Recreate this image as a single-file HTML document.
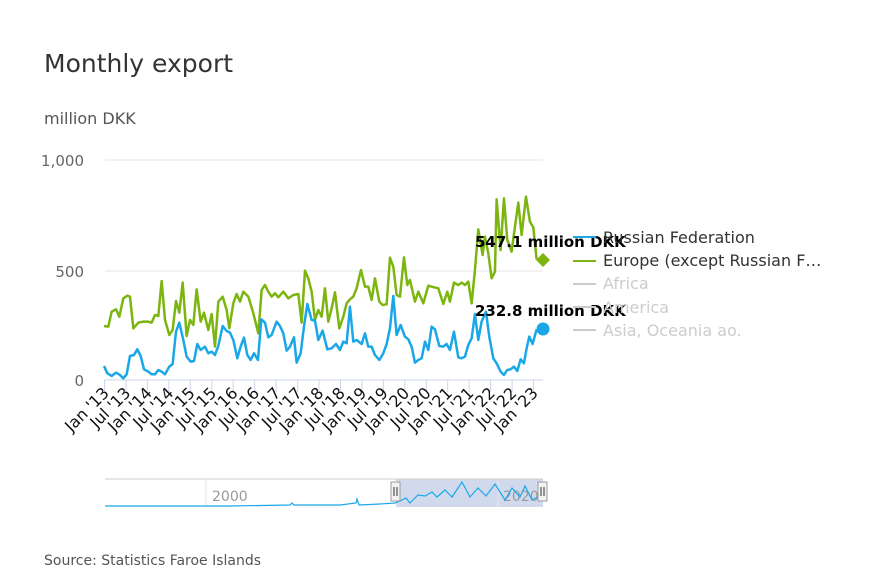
<!DOCTYPE html>
<html><head><style>
body{margin:0;background:#fff;font-family:"DejaVu Sans","Liberation Sans",sans-serif;}
</style></head><body>
<svg width="870" height="580" xmlns="http://www.w3.org/2000/svg" font-family="DejaVu Sans, Liberation Sans, sans-serif">
<rect width="870" height="580" fill="#fff"/>
<text x="44" y="72" font-size="25" fill="#333">Monthly export</text>
<text x="44" y="124" font-size="16" fill="#555">million DKK</text>
<line x1="105" y1="160" x2="543" y2="160" stroke="#e6e6e6"/>
<line x1="105" y1="271" x2="543" y2="271" stroke="#e6e6e6"/>
<line x1="104" y1="380" x2="543" y2="380" stroke="#ccd6eb"/>
<text x="84" y="166" font-size="15" fill="#666" text-anchor="end">1,000</text>
<text x="84" y="277" font-size="15" fill="#666" text-anchor="end">500</text>
<text x="84" y="386" font-size="15" fill="#666" text-anchor="end">0</text>
<g stroke="#ccd6eb">
<line x1="104.5" x2="104.5" y1="380" y2="392"/><line x1="126" x2="126" y1="380" y2="392"/><line x1="147.4" x2="147.4" y1="380" y2="392"/><line x1="168.9" x2="168.9" y1="380" y2="392"/><line x1="190.3" x2="190.3" y1="380" y2="392"/><line x1="211.8" x2="211.8" y1="380" y2="392"/><line x1="233.2" x2="233.2" y1="380" y2="392"/><line x1="254.7" x2="254.7" y1="380" y2="392"/><line x1="276.1" x2="276.1" y1="380" y2="392"/><line x1="297.6" x2="297.6" y1="380" y2="392"/><line x1="319" x2="319" y1="380" y2="392"/><line x1="340.5" x2="340.5" y1="380" y2="392"/><line x1="361.9" x2="361.9" y1="380" y2="392"/><line x1="383.4" x2="383.4" y1="380" y2="392"/><line x1="404.8" x2="404.8" y1="380" y2="392"/><line x1="426.3" x2="426.3" y1="380" y2="392"/><line x1="447.7" x2="447.7" y1="380" y2="392"/><line x1="469.2" x2="469.2" y1="380" y2="392"/><line x1="490.6" x2="490.6" y1="380" y2="392"/><line x1="512.1" x2="512.1" y1="380" y2="392"/><line x1="533.5" x2="533.5" y1="380" y2="392"/>
</g>
<g font-size="16" fill="#111" text-anchor="end">
<text transform="translate(110,394) rotate(-45)">Jan '13</text>
<text transform="translate(131.5,394) rotate(-45)">Jul '13</text>
<text transform="translate(152.9,394) rotate(-45)">Jan '14</text>
<text transform="translate(174.4,394) rotate(-45)">Jul '14</text>
<text transform="translate(195.8,394) rotate(-45)">Jan '15</text>
<text transform="translate(217.3,394) rotate(-45)">Jul '15</text>
<text transform="translate(238.7,394) rotate(-45)">Jan '16</text>
<text transform="translate(260.2,394) rotate(-45)">Jul '16</text>
<text transform="translate(281.6,394) rotate(-45)">Jan '17</text>
<text transform="translate(303.1,394) rotate(-45)">Jul '17</text>
<text transform="translate(324.5,394) rotate(-45)">Jan '18</text>
<text transform="translate(346,394) rotate(-45)">Jul '18</text>
<text transform="translate(367.4,394) rotate(-45)">Jan '19</text>
<text transform="translate(388.9,394) rotate(-45)">Jul '19</text>
<text transform="translate(410.3,394) rotate(-45)">Jan '20</text>
<text transform="translate(431.8,394) rotate(-45)">Jul '20</text>
<text transform="translate(453.2,394) rotate(-45)">Jan '21</text>
<text transform="translate(474.7,394) rotate(-45)">Jul '21</text>
<text transform="translate(496.1,394) rotate(-45)">Jan '22</text>
<text transform="translate(517.6,394) rotate(-45)">Jul '22</text>
<text transform="translate(539,394) rotate(-45)">Jan '23</text>
</g>
<g transform="translate(30,140) scale(0.3333)" fill="none" stroke-width="7.5" stroke-linejoin="round">
<polyline stroke="#7cb50f" points="222,558 235,560 245,515 258,508 268,530 280,475 292,467 300,470 310,565 325,548 340,545 355,545 365,548 375,525 385,528 395,423 405,540 418,585 428,570 438,483 448,518 458,428 470,588 480,540 490,555 500,448 512,545 522,518 535,570 545,522 555,620 565,485 578,470 590,510 598,565 610,490 620,462 630,485 640,455 655,470 670,520 685,580 695,450 705,435 715,455 725,470 735,460 745,472 760,455 775,475 790,465 805,462 815,548 825,392 835,415 845,455 855,540 865,510 875,530 885,445 895,545 905,505 915,457 928,565 940,530 950,490 960,478 970,470 980,445 993,390 1005,440 1015,440 1025,480 1035,415 1048,485 1058,495 1070,493 1080,353 1090,380 1100,465 1110,470 1122,352 1132,435 1140,420 1155,485 1165,455 1180,490 1195,437 1205,440 1225,445 1240,492 1252,455 1260,485 1272,428 1285,435 1295,428 1305,435 1315,425 1325,490 1335,390 1345,268 1358,345 1365,290 1375,340 1385,415 1395,395 1400,178 1412,330 1422,175 1432,300 1445,335 1455,260 1465,188 1475,285 1488,170 1500,245 1510,262 1520,358"/>
<polyline stroke="#1aa7e8" points="222,678 232,700 245,708 258,698 270,705 280,715 290,703 300,648 312,645 322,628 332,648 342,688 355,695 365,703 375,703 385,690 395,695 405,703 418,680 428,672 438,575 448,548 460,600 470,650 482,665 492,663 502,612 512,630 525,620 535,640 545,635 555,645 565,618 578,558 590,573 600,578 610,600 622,655 632,620 642,593 652,645 662,660 672,640 684,660 694,538 705,548 715,592 725,585 740,545 750,558 760,580 770,632 780,620 792,592 800,668 812,640 822,560 832,492 845,540 855,542 865,600 878,572 892,628 905,625 918,612 930,630 940,605 950,610 960,500 970,605 980,600 995,612 1005,580 1015,620 1025,620 1035,645 1048,660 1060,640 1070,612 1080,565 1090,468 1100,585 1112,555 1125,590 1135,598 1145,620 1155,668 1165,660 1175,655 1185,605 1195,630 1205,560 1215,568 1228,618 1240,620 1250,612 1260,630 1272,575 1285,652 1295,655 1305,650 1315,615 1325,595 1335,522 1345,600 1355,545 1368,515 1378,590 1390,655 1400,670 1412,695 1422,705 1432,690 1442,688 1452,680 1462,693 1472,658 1482,670 1490,625 1498,590 1508,612 1520,568"/>
</g>
<polygon points="543,253 550,260 543,267 536,260" fill="#7cb50f"/>
<circle cx="543" cy="329" r="6.5" fill="#1aa7e8"/>
<text x="475" y="247" font-size="15" font-weight="bold" fill="#000">547.1 million DKK</text>
<text x="475" y="316" font-size="15" font-weight="bold" fill="#000">232.8 million DKK</text>
<g font-size="16">
<line x1="573" y1="237" x2="596" y2="237" stroke="#1aa7e8" stroke-width="2"/>
<text x="603" y="243" fill="#333">Russian Federation</text>
<line x1="573" y1="261" x2="596" y2="261" stroke="#7cb50f" stroke-width="2"/>
<text x="603" y="266" fill="#333">Europe (except Russian F…</text>
<line x1="573" y1="284" x2="596" y2="284" stroke="#ccc" stroke-width="2"/>
<text x="603" y="289" fill="#ccc">Africa</text>
<line x1="573" y1="307" x2="596" y2="307" stroke="#ccc" stroke-width="2"/>
<text x="603" y="313" fill="#ccc">America</text>
<line x1="573" y1="330" x2="596" y2="330" stroke="#ccc" stroke-width="2"/>
<text x="603" y="336" fill="#ccc">Asia, Oceania ao.</text>
</g>
<rect x="396" y="479" width="147" height="28" fill="#ccd6eb" opacity="0.9"/>
<line x1="105" y1="479" x2="543" y2="479" stroke="#ccc"/>
<line x1="206" y1="479" x2="206" y2="507" stroke="#e6e6e6"/>
<line x1="498" y1="479" x2="498" y2="507" stroke="#e6e6e6"/>
<text x="212" y="501" font-size="14" fill="#999">2000</text>
<text x="503" y="501" font-size="14" fill="#999">2020</text>
<polyline fill="none" stroke="#1aa7e8" stroke-width="1.2" points="105,506 200,506 230,506 290,505 292,503 294,505 340,505 356,503 357,499 359,505 380,504 395,503 400,501 406,498 410,503 418,495 425,496 432,492 437,497 445,490 452,497 462,482 470,497 478,488 486,496 495,484 505,500 512,488 520,497 525,486 532,500 540,496"/>
<rect x="391" y="482" width="9" height="19" fill="#f2f2f2" stroke="#999"/>
<line x1="394" y1="487" x2="394" y2="496" stroke="#333"/><line x1="397" y1="487" x2="397" y2="496" stroke="#333"/>
<rect x="538" y="482" width="9" height="19" fill="#f2f2f2" stroke="#999"/>
<line x1="541" y1="487" x2="541" y2="496" stroke="#333"/><line x1="544" y1="487" x2="544" y2="496" stroke="#333"/>
<text x="44" y="565" font-size="14" fill="#555">Source: Statistics Faroe Islands</text>
</svg>
</body></html>
